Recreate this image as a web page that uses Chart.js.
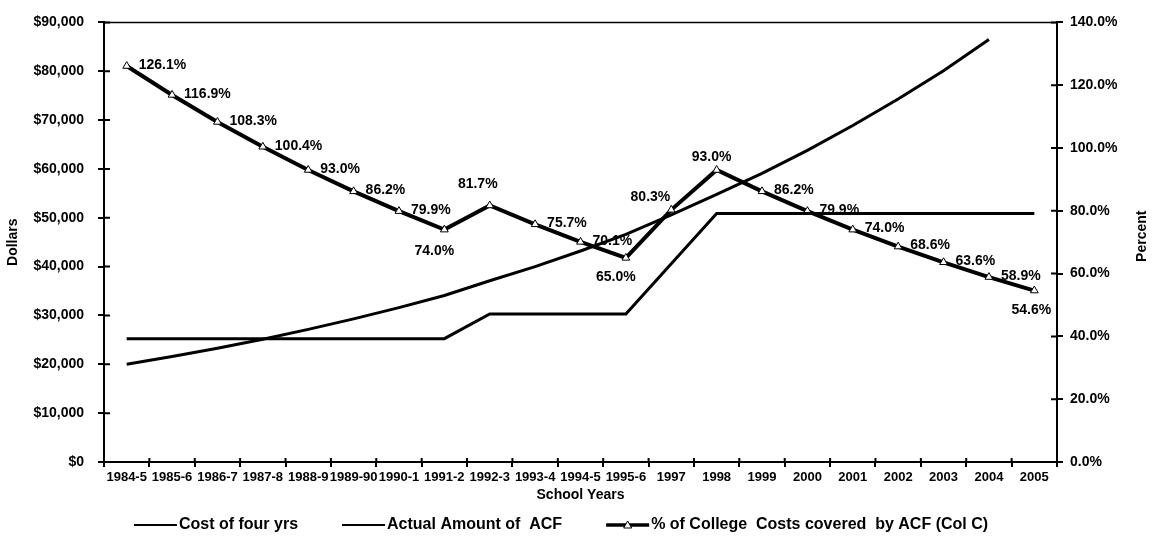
<!DOCTYPE html>
<html>
<head>
<meta charset="utf-8">
<script src="https://cdn.jsdelivr.net/npm/chart.js@4.4.1/dist/chart.umd.min.js"></script>
<style>
  html, body { margin: 0; padding: 0; background: #fff; }
</style>
</head>
<body>
<canvas id="acfChart" width="1153" height="544"></canvas>
<script>
// Values
const schoolYears = ['1984-5', '1985-6', '1986-7', '1987-8', '1988-9', '1989-90', '1990-1', '1991-2',
  '1992-3', '1993-4', '1994-5', '1995-6', '1997', '1998', '1999', '2000', '2001', '2002', '2003', '2004', '2005'];

const costFourYrs = [20000, 21600, 23300, 25150, 27150, 29300, 31600, 34100, 37100, 40000, 43200,
  46600, 50600, 54800, 59100, 63800, 68900, 74300, 80100, 86500, null];

const actualACF = [25250, 25250, 25250, 25250, 25250, 25250, 25250, 25250, 30300, 30300, 30300,
  30300, 40600, 50900, 50900, 50900, 50900, 50900, 50900, 50900, 50900];

const pctCovered = [126.1, 116.9, 108.3, 100.4, 93.0, 86.2, 79.9, 74.0, 81.7, 75.7, 70.1,
  65.0, 80.3, 93.0, 86.2, 79.9, 74.0, 68.6, 63.6, 58.9, 54.6];

const seriesNames = ['Cost of four yrs', 'Actual Amount of  ACF', '% of College  Costs covered  by ACF (Col C)'];

// where each percent label sits relative to its point
const R = { align: 'left', dx: 12, dy: -1 };
const labelSpots = [R, R, R, R, R, R, R,
  { align: 'center', dx: -10, dy: 22 },
  { align: 'center', dx: -12, dy: -21 },
  R, R,
  { align: 'center', dx: -10, dy: 19 },
  { align: 'right', dx: -1, dy: -13 },
  { align: 'center', dx: -5, dy: -13 },
  R, R, R, R, R, R,
  { align: 'center', dx: -3, dy: 20 }];

const FONT = '"Liberation Sans", Arial, sans-serif';
Chart.defaults.color = '#000';
Chart.defaults.font.family = FONT;

// labels, inner tick marks, top border, right title and legend
const extras = {
  id: 'extras',
  afterDatasetsDraw(chart) {
    const ctx = chart.ctx;
    const meta = chart.getDatasetMeta(2);
    ctx.save();
    ctx.font = 'bold 14px ' + FONT;
    ctx.fillStyle = '#000';
    ctx.textBaseline = 'middle';
    meta.data.forEach((pt, i) => {
      const s = labelSpots[i];
      ctx.textAlign = s.align;
      ctx.fillText(pctCovered[i].toFixed(1) + '%', pt.x + s.dx, pt.y + s.dy);
    });
    ctx.restore();
  },
  afterDraw(chart) {
    const ctx = chart.ctx;
    const area = chart.chartArea;
    ctx.save();
    ctx.strokeStyle = '#000';

    // top border
    ctx.lineWidth = 1.5;
    ctx.beginPath();
    ctx.moveTo(area.left, area.top);
    ctx.lineTo(area.right, area.top);
    ctx.stroke();

    // tick marks reaching into the plot
    ctx.lineWidth = 2;
    ctx.beginPath();
    chart.scales.y.ticks.forEach((t, i) => {
      const y = chart.scales.y.getPixelForTick(i);
      ctx.moveTo(area.left, y); ctx.lineTo(area.left + 6, y);
    });
    chart.scales.y1.ticks.forEach((t, i) => {
      const y = chart.scales.y1.getPixelForTick(i);
      ctx.moveTo(area.right, y); ctx.lineTo(area.right - 6, y);
    });
    const xs = chart.scales.x;
    for (let i = 0; i <= schoolYears.length; i++) {
      const x = xs.getPixelForValue(i - 0.5);
      ctx.moveTo(x, area.bottom); ctx.lineTo(x, area.bottom - 4);
    }
    ctx.stroke();

    // right axis title, reading bottom to top
    ctx.font = 'bold 14px ' + FONT;
    ctx.fillStyle = '#000';
    ctx.textAlign = 'center';
    ctx.textBaseline = 'middle';
    ctx.translate(1142, (area.top + area.bottom) / 2 - 6);
    ctx.rotate(-Math.PI / 2);
    ctx.fillText('Percent', 0, 0);
    ctx.setTransform(1, 0, 0, 1, 0, 0);

    // legend
    ctx.font = 'bold 16px ' + FONT;
    ctx.textAlign = 'left';
    const sample = 43, gapText = 2, gapItem = 44;
    const widths = seriesNames.map(n => sample + gapText + ctx.measureText(n).width);
    const total = widths.reduce((a, b) => a + b, 0) + gapItem * (widths.length - 1);
    let x = 561 - total / 2;
    const y = 525;
    seriesNames.forEach((name, i) => {
      ctx.lineWidth = i === 2 ? 3.5 : 2;
      ctx.beginPath();
      ctx.moveTo(x, y); ctx.lineTo(x + sample, y);
      ctx.stroke();
      if (i === 2) {
        const cx = x + sample / 2;
        ctx.lineWidth = 1;
        ctx.fillStyle = '#fff';
        ctx.beginPath();
        ctx.moveTo(cx, y - 4); ctx.lineTo(cx + 4, y + 3); ctx.lineTo(cx - 4, y + 3);
        ctx.closePath();
        ctx.fill(); ctx.stroke();
        ctx.fillStyle = '#000';
      }
      ctx.fillText(name, x + sample + gapText, y);
      x += widths[i] + gapItem;
    });
    ctx.restore();
  }
};

new Chart(document.getElementById('acfChart'), {
  type: 'line',
  data: {
    labels: schoolYears,
    datasets: [
      {
        label: seriesNames[0],
        data: costFourYrs,
        yAxisID: 'y',
        borderColor: '#000',
        borderWidth: 3,
        pointRadius: 0,
        tension: 0
      },
      {
        label: seriesNames[1],
        data: actualACF,
        yAxisID: 'y',
        borderColor: '#000',
        borderWidth: 3,
        pointRadius: 0,
        tension: 0
      },
      {
        label: seriesNames[2],
        data: pctCovered,
        yAxisID: 'y1',
        borderColor: '#000',
        borderWidth: 4,
        pointStyle: 'triangle',
        pointRadius: 4.5,
        pointBackgroundColor: '#fff',
        pointBorderColor: '#000',
        pointBorderWidth: 1,
        tension: 0
      }
    ]
  },
  options: {
    responsive: false,
    animation: false,
    layout: { padding: { top: 22, bottom: 40, left: 0, right: 0 } },
    plugins: { legend: { display: false }, tooltip: { enabled: false } },
    scales: {
      x: {
        offset: true,
        afterFit(scale) { scale.height = 42; },
        grid: { drawOnChartArea: false, color: '#000', lineWidth: 2, tickLength: 5, offset: true },
        border: { color: '#000', width: 2 },
        ticks: { autoSkip: false, maxRotation: 0, padding: 3, font: { size: 13, weight: 'bold' } },
        title: { display: true, text: 'School Years', font: { size: 14, weight: 'bold' }, padding: { top: 2, bottom: 0 } }
      },
      y: {
        position: 'left',
        min: 0,
        max: 90000,
        afterFit(scale) { scale.width = 104; },
        grid: { drawOnChartArea: false, color: '#000', lineWidth: 2, tickLength: 6 },
        border: { color: '#000', width: 2 },
        ticks: {
          stepSize: 10000,
          padding: 14,
          font: { size: 14, weight: 'bold' },
          callback: v => '$' + v.toLocaleString('en-US')
        },
        title: { display: true, text: 'Dollars', font: { size: 14, weight: 'bold' }, padding: { top: 5 } }
      },
      y1: {
        position: 'right',
        min: 0,
        max: 140,
        afterFit(scale) { scale.width = 96; },
        grid: { drawOnChartArea: false, color: '#000', lineWidth: 2, tickLength: 6 },
        border: { color: '#000', width: 2 },
        ticks: {
          stepSize: 20,
          padding: 7,
          font: { size: 14, weight: 'bold' },
          callback: v => v.toFixed(1) + '%'
        }
      }
    }
  },
  plugins: [extras]
});
</script>
</body>
</html>
